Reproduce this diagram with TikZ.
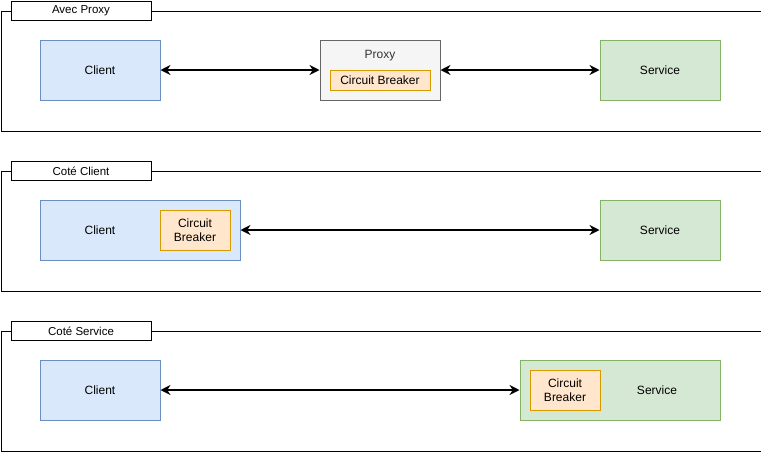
\documentclass[tikz,border=0pt]{standalone}
\usepackage{fontspec}
\setmainfont{Liberation Sans}
\usetikzlibrary{arrows.meta}
\definecolor{bluefill}{HTML}{DAE8FC}
\definecolor{blueline}{HTML}{6C8EBF}
\definecolor{grayfill}{HTML}{F5F5F5}
\definecolor{grayline}{HTML}{666666}
\definecolor{grayText}{HTML}{333333}
\definecolor{orfill}{HTML}{FFE6CC}
\definecolor{orline}{HTML}{D79B00}
\definecolor{grfill}{HTML}{D5E8D4}
\definecolor{grline}{HTML}{82B366}
\tikzset{
  panel/.style={draw=black, line width=1pt, fill=white},
  paneltitle/.style={draw=black, line width=1pt, fill=white, minimum width=140pt, minimum height=19pt, inner sep=0pt, font=\fontsize{11.5}{13}\selectfont},
  box/.style={line width=1pt, inner sep=0pt, font=\fontsize{12}{14}\selectfont, align=center},
  clientbox/.style={box, draw=blueline, fill=bluefill},
  servicebox/.style={box, draw=grline, fill=grfill},
  proxybox/.style={box, draw=grayline, fill=grayfill},
  cbbox/.style={box, draw=orline, fill=orfill},
  link/.style={line width=1.8pt, {Stealth[length=10pt,width=10pt]}-{Stealth[length=10pt,width=10pt]}}
}
\begin{document}
\begin{tikzpicture}[x=1pt,y=-1pt]
\useasboundingbox (0,0) rectangle (761,451);
% Panel 1
\node[panel, minimum width=760pt, minimum height=120pt, anchor=north west, inner sep=0pt] (pan1) at (0.5,10.5) {};
\node[paneltitle, anchor=north west] (t1) at (10.5,1) {Avec Proxy};
\node[clientbox, minimum width=120pt, minimum height=60pt] (c1) at (100,70) {Client};
\node[proxybox, minimum width=120pt, minimum height=60pt] (p1) at (380,70) {};
\node[box, text=grayText] (p1lab) at (380,56) {Proxy};
\node[cbbox, minimum width=100pt, minimum height=20pt] (cb1) at (380,80) {Circuit Breaker};
\node[servicebox, minimum width=120pt, minimum height=60pt] (s1) at (660,70) {Service};
\draw[link] (c1.east) -- (p1.west);
\draw[link] (p1.east) -- (s1.west);
% Panel 2
\node[panel, minimum width=760pt, minimum height=120pt, anchor=north west, inner sep=0pt] (pan2) at (0.5,170.5) {};
\node[paneltitle, anchor=north west] (t2) at (10.5,161) {Coté Client};
\node[clientbox, minimum width=200pt, minimum height=60pt] (c2) at (140,230) {};
\node[box] (c2lab) at (100,230) {Client};
\node[cbbox, minimum width=70pt, minimum height=40pt] (cb2) at (195,230) {Circuit\\Breaker};
\node[servicebox, minimum width=120pt, minimum height=60pt] (s2) at (660,230) {Service};
\draw[link] (c2.east) -- (s2.west);
% Panel 3
\node[panel, minimum width=760pt, minimum height=120pt, anchor=north west, inner sep=0pt] (pan3) at (0.5,330.5) {};
\node[paneltitle, anchor=north west] (t3) at (10.5,321) {Coté Service};
\node[clientbox, minimum width=120pt, minimum height=60pt] (c3) at (100,390) {Client};
\node[servicebox, minimum width=200pt, minimum height=60pt] (s3) at (620,390) {};
\node[box] (s3lab) at (657,390) {Service};
\node[cbbox, minimum width=70pt, minimum height=40pt] (cb3) at (565,390) {Circuit\\Breaker};
\draw[link] (c3.east) -- (s3.west);
\end{tikzpicture}
\end{document}
